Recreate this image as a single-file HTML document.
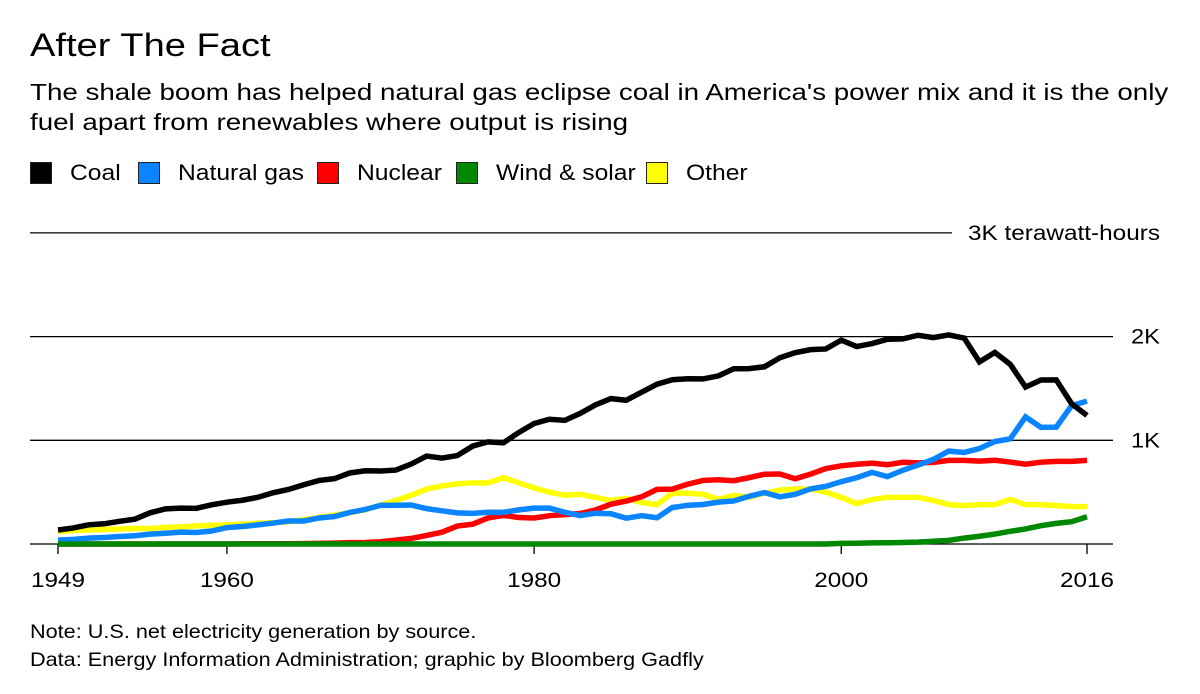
<!DOCTYPE html>
<html><head><meta charset="utf-8">
<style>
body{margin:0;background:#fff;width:1200px;height:694px;overflow:hidden;font-family:"Liberation Sans",sans-serif;color:#000}
.t{position:absolute;white-space:nowrap;transform-origin:0 0}
.sq{position:absolute;top:162px;width:20px;height:20px;border:1px solid #222}
</style></head><body>
<div class="t" style="left:30px;top:27px;font-size:32px;transform:scaleX(1.19)">After The Fact</div>
<div class="t" style="left:30px;top:77px;font-size:23.5px;line-height:30px;transform:scaleX(1.18)">The shale boom has helped natural gas eclipse coal in America's power mix and it is the only<br>fuel apart from renewables where output is rising</div>
<div id="legend"></div>
<svg id="c" width="1200" height="694" style="position:absolute;left:0;top:0"></svg>
<div class="t" style="left:30px;top:621px;font-size:19.5px;transform:scaleX(1.11)">Note: U.S. net electricity generation by source.</div>
<div class="t" style="left:30px;top:649px;font-size:19.5px;transform:scaleX(1.11)">Data: Energy Information Administration; graphic by Bloomberg Gadfly</div>
<script>
const years=[];for(let y=1949;y<=2016;y++)years.push(y);
const coal=[135,155,185,195,219,239,301,339,346,344,378,403,422,450,494,526,571,613,630,685,706,704,713,771,848,828,853,944,985,976,1075,1162,1203,1192,1259,1342,1402,1386,1464,1541,1584,1594,1592,1621,1690,1691,1709,1796,1845,1874,1881,1966,1904,1933,1974,1978,2013,1991,2016,1986,1756,1847,1733,1514,1581,1582,1352,1240];
const gas=[37,45,57,63,72,80,95,104,114,111,125,158,169,184,202,222,222,251,265,304,333,373,374,376,341,320,300,295,306,305,329,346,346,305,274,297,292,249,273,253,352,373,381,404,415,460,496,455,479,531,556,601,639,691,650,711,761,816,896,883,921,988,1014,1225,1125,1127,1334,1378];
const nuclear=[0,0,0,0,0,0,0,0,0,0,0,0.5,2,2,3,3,4,6,8,13,14,22,38,54,83,114,173,191,251,276,255,251,273,283,294,328,384,414,455,527,529,577,613,619,610,640,673,675,629,674,728,754,769,780,764,788,782,787,806,806,799,807,790,769,789,797,797,806];
const wind=[0,0,0,0,0,0,0,0,0,0,0,0,0,0,0,0,0,0,0,0,0,0,0,0,0,0,0,0,0,0,0,0,0,0,0,0,0,0,0,0,0,0,0,0,0,0,0,0,0,0,0,6,7,11,12,15,18,27,35,57,75,96,122,145,177,199,215,263];
const other=[120,130,135,140,145,150,150,160,165,175,180,185,190,200,205,215,235,255,280,300,330,375,420,470,530,560,580,590,590,640,590,540,500,470,480,450,420,440,400,380,490,490,480,430,470,450,490,520,530,530,500,450,390,430,450,450,450,420,380,370,380,380,430,380,380,370,360,360];
const series=[["Other","#ffff00",other],["Nuclear","#ff0000",nuclear],["Natural gas","#0a84ff",gas],["Coal","#000000",coal],["Wind & solar","#008800",wind]];
const legendNames=["Coal","Natural gas","Nuclear","Wind & solar","Other"];
const legendColors=["#000","#0a84ff","#ff0000","#008800","#ffff00"];
const yTicks=[1000,2000,3000];const yTickLabels=["1K","2K","3K terawatt-hours"];
const xTicks=[1949,1960,1980,2000,2016];
const X=y=>58+(y-1949)*(1087-58)/67;
const Y=v=>544-v*0.1037;
const NS="http://www.w3.org/2000/svg",svg=document.getElementById('c');
function mk(t,a){const e=document.createElementNS(NS,t);for(const k in a)e.setAttribute(k,a[k]);svg.appendChild(e);return e;}
yTicks.forEach((v,i)=>{
 const l=mk('line',{x1:30,x2:i==2?952:1113,y1:Y(v),y2:Y(v),stroke:'#000','stroke-width':1.3});
 
 
 const w=i==2?192:29;
 const t=mk('text',{x:1160-w,y:Y(v)+7,'font-size':21,'font-family':'Liberation Sans',textLength:w,lengthAdjust:'spacingAndGlyphs'});
 t.textContent=yTickLabels[i];
 
 
});
const b=mk('line',{x1:30,x2:1113,y1:544,y2:544,stroke:'#000','stroke-width':1.3});


xTicks.forEach(yr=>{
 const k=mk('line',{x1:X(yr),x2:X(yr),y1:544,y2:554,stroke:'#000','stroke-width':1.3});
 
 
 const t=mk('text',{x:X(yr)-27,y:587,'font-size':21,'font-family':'Liberation Sans',textLength:54,lengthAdjust:'spacingAndGlyphs'});
 t.textContent=yr;
 
 
});
series.forEach(([n,c,d])=>{
 const p=mk('polyline',{points:d.map((v,i)=>X(years[i])+','+Y(v)).join(' '),fill:'none',stroke:c,'stroke-width':5.5,'stroke-linejoin':'miter'});
 
 
});
const lg=document.getElementById('legend');
const txX=[70,178,357,496,686];
legendNames.forEach((n,i)=>{
 const s=document.createElement('div');
 s.className='sq';s.style.left=(txX[i]-40)+'px';s.style.background=legendColors[i];
 
 
 lg.appendChild(s);
 const t=document.createElement('div');
 t.className='t';t.style.cssText='left:'+txX[i]+'px;top:160px;font-size:22px;transform:scaleX(1.12)';
 t.textContent=n;
 
 
 lg.appendChild(t);
});
</script>
</body></html>
